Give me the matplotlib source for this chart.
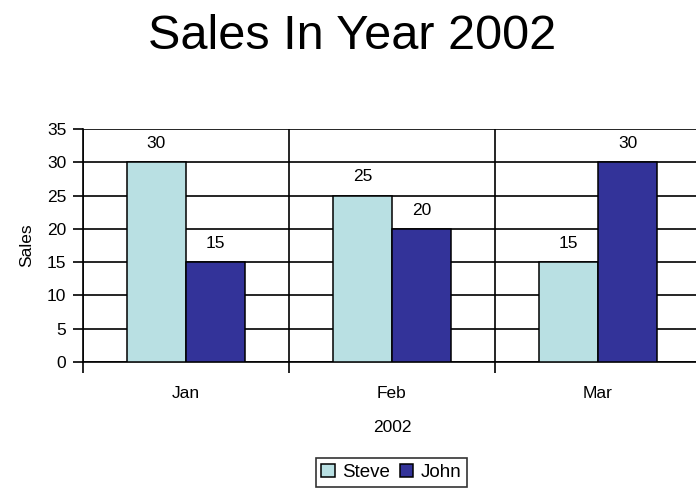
import matplotlib.pyplot as plt
import numpy as np
from matplotlib.ticker import MultipleLocator

plt.rcParams["font.family"] = ["Liberation Sans", "DejaVu Sans"]

months = ["Jan", "Feb", "Mar"]
steve = [30, 25, 15]
john = [15, 20, 30]
series_names = ["Steve", "John"]
series_colors = ["#b9e0e3", "#333399"]

small = 12.5

fig = plt.figure(figsize=(6.96, 4.92), dpi=100)
ax = fig.add_axes([0.1193, 0.2642, 0.8878, 0.4736])

x = np.arange(len(months))
width = 0.287
for i, (vals, name, color) in enumerate(zip([steve, john], series_names, series_colors)):
    offset = (i - 0.5) * width
    b = ax.bar(x + offset, vals, width, color=color, edgecolor="black",
               linewidth=1.1, label=name, zorder=3)
    for rect, v in zip(b, vals):
        ax.annotate(f"{v}", xy=(rect.get_x() + rect.get_width() / 2, v),
                    xytext=(0, 8), textcoords="offset points",
                    ha="center", va="bottom", fontsize=small)

ax.set_xlim(-0.5, 2.5)
ax.set_ylim(0, 35)
ax.yaxis.set_major_locator(MultipleLocator(5))
ax.set_xticks(x)
ax.set_xticklabels(months)
ax.set_xticks([-0.5, 0.5, 1.5], minor=True)

# grid: horizontal on every y tick, vertical between categories
ax.grid(axis="y", which="major", color="black", linewidth=1.2, zorder=0)
ax.grid(axis="x", which="minor", color="black", linewidth=1.2, zorder=0)

for side in ["top", "right"]:
    ax.spines[side].set_visible(False)
ax.spines["left"].set_linewidth(1.2)
ax.spines["bottom"].set_linewidth(1.2)

ax.tick_params(axis="y", direction="out", length=7, width=1.2, labelsize=small, pad=5)
ax.tick_params(axis="x", which="major", length=0, labelsize=small, pad=17)
ax.tick_params(axis="x", which="minor", direction="out", length=8, width=1.2)

ax.set_ylabel("Sales", fontsize=small, labelpad=9)
ax.set_xlabel("2002", fontsize=small, labelpad=14)

fig.text(0.506, 1 - 49 / 492, "Sales In Year 2002", fontsize=35,
         ha="center", va="baseline")

leg = fig.legend(loc="center", bbox_to_anchor=(0.5625, 0.04), ncol=2,
                 fontsize=13.5, frameon=True, fancybox=False, edgecolor="black",
                 handlelength=0.7, handleheight=0.7, handletextpad=0.4,
                 columnspacing=0.55, borderpad=0.3, borderaxespad=0)
leg.get_frame().set_linewidth(1.2)

fig.savefig("out.png", dpi=100)
